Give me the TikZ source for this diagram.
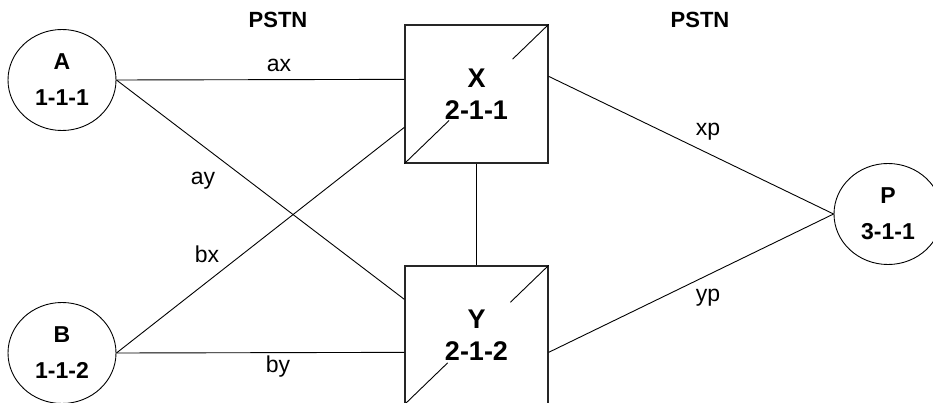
\documentclass[tikz,border=0pt]{standalone}
\usepackage{fontspec}
\setmainfont{Liberation Sans}
\usetikzlibrary{shapes.geometric,calc}
\begin{document}
\begin{tikzpicture}[x=1pt,y=-1pt,
  endpt/.style={draw, ellipse, line width=0.9pt, minimum width=108pt, minimum height=101pt, inner sep=0pt, align=center, font={\bfseries\fontsize{23}{36}\selectfont}},
  switchbox/.style={draw=black!85, line width=1.3pt, minimum width=143pt, minimum height=138pt, inner sep=0pt, align=center, font={\bfseries\fontsize{27}{32}\selectfont}},
  conn/.style={line width=0.9pt},
  lbl/.style={anchor=base, inner sep=0pt, font={\fontsize{23}{27}\selectfont}},
  hdr/.style={anchor=base, inner sep=0pt, font={\bfseries\fontsize{22}{26}\selectfont}}]
\useasboundingbox (0,0) rectangle (933,403);
\node[endpt] (A) at (62,80) {A\\1-1-1};
\node[endpt] (B) at (62,353) {B\\1-1-2};
\node[endpt] (P) at (888,214) {P\\3-1-1};
\node[switchbox] (X) at (476.5,94) {X\\2-1-1};
\node[switchbox] (Y) at (476.5,335) {Y\\2-1-2};
\draw[conn] (X.south west) -- ($(X.south west)!0.31!(X.north east)$);
\draw[conn] ($(X.south west)!0.75!(X.north east)$) -- (X.north east);
\draw[conn] (Y.south west) -- ($(Y.south west)!0.30!(Y.north east)$);
\draw[conn] ($(Y.south west)!0.735!(Y.north east)$) -- (Y.north east);
\coordinate (Xa) at ($(X.north west)+(0,55)$);
\coordinate (Xb) at ($(X.north west)+(0,103)$);
\coordinate (Xp) at ($(X.north east)+(0,52)$);
\coordinate (Ya) at ($(Y.north west)+(0,34)$);
\coordinate (Yb) at ($(Y.north west)+(0,87)$);
\coordinate (Yp) at ($(Y.north east)+(0,87)$);
\draw[conn] (A.east) -- (Xa);
\draw[conn] (A.east) -- (Ya);
\draw[conn] (B.east) -- (Xb);
\draw[conn] (B.east) -- (Yb);
\draw[conn] (X.south) -- (Y.north);
\draw[conn] (Xp) -- (P.west);
\draw[conn] (Yp) -- (P.west);
\node[hdr] (h1) at (278,28) {PSTN};
\node[hdr] (h2) at (700,28) {PSTN};
\node[lbl] (lax) at (279,72) {ax};
\node[lbl] (lay) at (203,185) {ay};
\node[lbl] (lbx) at (207,262) {bx};
\node[lbl] (lby) at (278,372) {by};
\node[lbl] (lxp) at (708,136) {xp};
\node[lbl] (lyp) at (708,301) {yp};
\end{tikzpicture}
\end{document}
